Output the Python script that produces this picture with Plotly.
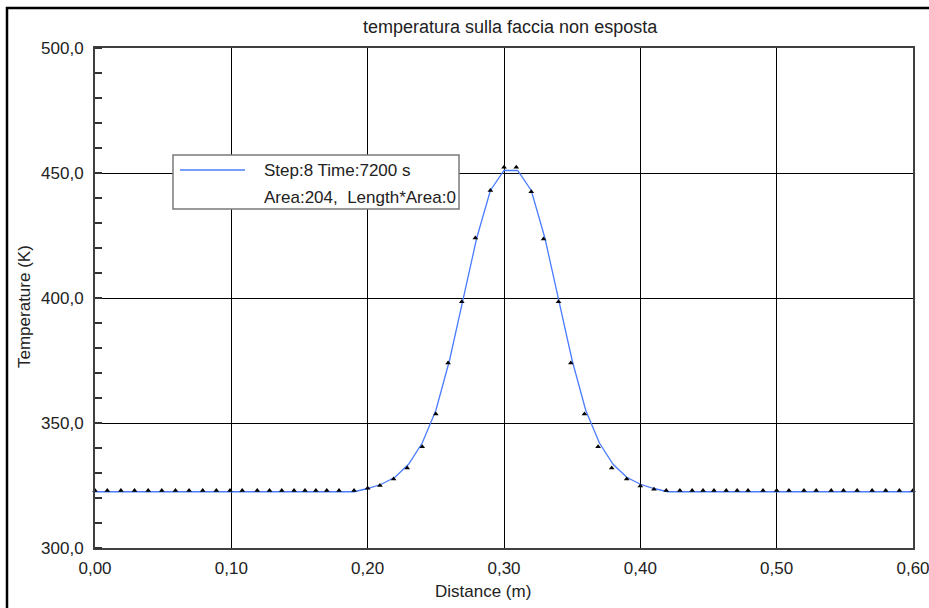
import plotly.graph_objects as go

# ---- data ----
line_x = [0.00, 0.19, 0.20, 0.21, 0.22, 0.23, 0.24, 0.25, 0.26, 0.27, 0.28, 0.29, 0.30,
          0.31, 0.32, 0.33, 0.34, 0.35, 0.36, 0.37, 0.38, 0.39, 0.40, 0.41, 0.42, 0.60]
line_t = [322.5, 322.5, 323.8, 325.5, 328.3, 333.5, 342.0, 355.0, 375.0, 399.5, 424.0, 443.0, 451.0,
          451.0, 443.0, 424.0, 399.5, 375.0, 355.0, 342.0, 333.5, 328.3, 325.5, 323.8, 322.5, 322.5]

pts_x = [0.000, 0.009, 0.019, 0.029, 0.039, 0.049, 0.059, 0.069, 0.079, 0.089, 0.099,
         0.108, 0.119, 0.128, 0.137, 0.146, 0.154, 0.162, 0.170, 0.179, 0.190,
         0.200, 0.209, 0.219, 0.229, 0.240, 0.250, 0.259, 0.269, 0.279, 0.290, 0.300,
         0.309, 0.320, 0.329, 0.340, 0.349, 0.359, 0.369, 0.379, 0.390, 0.400, 0.410,
         0.419, 0.429, 0.438, 0.446, 0.454, 0.463, 0.471, 0.479, 0.490, 0.500,
         0.509, 0.520, 0.529, 0.540, 0.549, 0.559, 0.570, 0.580, 0.590, 0.600]
pts_t = [323.0] * 21 + [
         323.9, 325.0, 327.6, 332.0, 340.5, 353.6, 374.0, 398.5, 424.0, 443.0, 452.3,
         452.3, 442.5, 423.6, 398.5, 374.0, 353.6, 340.5, 332.0, 327.6, 324.8, 323.5] + [323.0] * 20

x_ticks = [0.0, 0.1, 0.2, 0.3, 0.4, 0.5, 0.6]
y_ticks = [300, 350, 400, 450, 500]

title_text = "temperatura sulla faccia non esposta"
legend_line1 = "Step:8 Time:7200 s"
legend_line2 = "Area:204,\u00a0 Length*Area:0"
x_title = "Distance (m)"
y_title = "Temperature (K)"

FONT = "Liberation Sans, Arial, sans-serif"
TXT = "#222222"

fig = go.Figure()
fig.add_trace(go.Scatter(x=line_x, y=line_t, mode="lines",
                         line=dict(color="#4a7cff", width=1.3),
                         showlegend=False, hoverinfo="skip"))
fig.add_trace(go.Scatter(x=pts_x, y=pts_t, mode="markers",
                         marker=dict(symbol="triangle-up", size=5, color="black"),
                         cliponaxis=False, showlegend=False, hoverinfo="skip"))

L, R, T, B = 95, 16, 48, 60
W, H = 929, 608
pw, ph = W - L - R, H - T - B

def px(xp):
    return (xp - L) / pw

def py(yp):
    return (H - B - yp) / ph

fig.update_layout(
    width=W, height=H,
    margin=dict(l=L, r=R, t=T, b=B),
    paper_bgcolor="white", plot_bgcolor="white",
    separators=",.",
    hovermode=False,
    font=dict(family=FONT, size=17, color=TXT),
    xaxis=dict(range=[0, 0.6], tickmode="array", tickvals=x_ticks, tickformat=".2f",
               showgrid=True, gridcolor="black", gridwidth=1,
               zeroline=False, showline=True, linecolor="#404040", linewidth=2,
               mirror=True, ticks="", ticklabelstandoff=4, automargin=False,
               ticklabeloverflow="allow",
               tickfont=dict(family=FONT, size=17, color=TXT)),
    yaxis=dict(range=[300, 500], tickmode="array", tickvals=y_ticks, tickformat=".1f",
               showgrid=True, gridcolor="black", gridwidth=1,
               zeroline=False, showline=True, linecolor="#404040", linewidth=2,
               mirror=True, ticks="", ticklabelstandoff=6, automargin=False,
               ticklabeloverflow="allow",
               minor=dict(tickmode="linear", tick0=300, dtick=10, ticks="inside", ticklen=7,
                          tickcolor="#333333", tickwidth=1.5, showgrid=False),
               tickfont=dict(family=FONT, size=17, color=TXT)),
)

shapes = [
    # outer figure border
    dict(type="rect", xref="paper", yref="paper",
         x0=px(7), x1=px(960), y0=py(640), y1=py(8),
         line=dict(color="black", width=2.5), fillcolor="rgba(0,0,0,0)", layer="above"),
    # legend box
    dict(type="rect", xref="paper", yref="paper",
         x0=px(173), x1=px(459), y0=py(209), y1=py(155),
         line=dict(color="#7a7a7a", width=1.5), fillcolor="white", layer="above"),
    # legend line sample
    dict(type="line", xref="paper", yref="paper",
         x0=px(180), x1=px(245), y0=py(170), y1=py(170),
         line=dict(color="#4a7cff", width=1.5), layer="above"),
]

annotations = [
    dict(text=title_text, xref="paper", yref="paper", x=px(510), y=py(27),
         xanchor="center", yanchor="middle", showarrow=False,
         font=dict(family=FONT, size=18, color=TXT)),
    dict(text=x_title, xref="paper", yref="paper", x=px(483), y=py(591),
         xanchor="center", yanchor="middle", showarrow=False,
         font=dict(family=FONT, size=17, color=TXT)),
    dict(text=y_title, xref="paper", yref="paper", x=px(24), y=py(307),
         xanchor="center", yanchor="middle", showarrow=False, textangle=-90,
         font=dict(family=FONT, size=17, color=TXT)),
    dict(text=legend_line1, xref="paper", yref="paper", x=px(262), y=py(170),
         xanchor="left", yanchor="middle", showarrow=False,
         font=dict(family=FONT, size=17, color=TXT)),
    dict(text=legend_line2, xref="paper", yref="paper", x=px(262), y=py(197),
         xanchor="left", yanchor="middle", showarrow=False,
         font=dict(family=FONT, size=17, color=TXT)),
]

fig.update_layout(shapes=shapes, annotations=annotations)
fig.write_html("out.html",
               config={"displayModeBar": False, "staticPlot": True},
               post_script="document.body.style.margin='0';document.body.style.padding='0';")
